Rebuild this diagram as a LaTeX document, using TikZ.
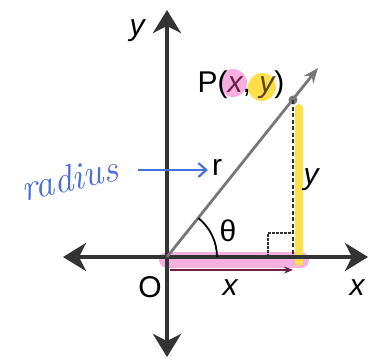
\documentclass[tikz,border=0pt]{standalone}
\usepackage{fontspec}
\newfontfamily\labelfont{Liberation Sans}
\usetikzlibrary{positioning,arrows.meta}
\definecolor{axisgray}{HTML}{333333}
\definecolor{raygray}{HTML}{777777}
\definecolor{hlpink}{HTML}{F6B0E0}
\definecolor{hlyellow}{HTML}{FFE04A}
\definecolor{penblue}{HTML}{4A6FD8}
\definecolor{xmaroon}{HTML}{6B1E4A}
\definecolor{yolive}{HTML}{5A4718}

\begin{document}
\begin{tikzpicture}[x=1pt, y=1pt,
				axis/.style={line width=4.5pt, axisgray, -{Stealth[length=23pt, width=28pt, inset=7pt]}},
				lbl/.style={font=\labelfont\fontsize{30}{32}\selectfont, inner sep=0pt},
				highlight/.style={line width=#1, line cap=round},
				arrow/.style={-{Stealth[length=9pt, width=7pt]}}
			]
			\useasboundingbox (0,0) rectangle (371,362);

			% Points
			\coordinate (O) at (167,105);
			\coordinate (P) at (293,262);
			\coordinate (F) at (293,105);
			\coordinate (raytip) at (318,294);
			\coordinate (top) at (167,352);
			\coordinate (bottom) at (167,5);
			\coordinate (left) at (63,105);
			\coordinate (right) at (368,105);

			% Highlights
			\coordinate (pinkA) at (167,102);
			\coordinate (pinkB) at (301,102);
			\coordinate (yelA) at (299,254);
			\coordinate (yelB) at (299,100);
			\draw[highlight=16pt, hlpink] (pinkA) -- (pinkB);
			\draw[highlight=8pt, hlyellow] (yelA) -- (yelB);
			\fill[hlpink] (233,279) circle (14);
			\fill[hlyellow] (262,275) circle (14);

			% Axes
			\draw[axis] (O) -- (top);
			\draw[axis] (O) -- (bottom);
			\draw[axis] (O) -- (left);
			\draw[axis] (O) -- (right);

			% Triangle
			\draw[line width=2.8pt, raygray, -{Stealth[length=15pt, width=12pt]}] (O) -- (raytip);
			\fill[raygray] (P) circle (4.5);
			\draw[line width=2pt, axisgray, dash pattern=on 4pt off 2.5pt] (P) -- (F);
			\coordinate (sqA) at (268,105);
			\coordinate (sqB) at (268,129);
			\coordinate (sqC) at (293,129);
			\draw[line width=1.8pt, axisgray, dash pattern=on 3pt off 1pt] (sqA) -- (sqB) -- (sqC);
			\draw[line width=1.8pt, black] ([shift={(50,0)}]O) arc[start angle=0, end angle=51, radius=50];
			\coordinate (xarrA) at (170,92);
			\coordinate (xarrB) at (293,92);
			\draw[arrow, line width=2pt, xmaroon] (xarrA) -- (xarrB);

			% Labels
			\node[lbl] (ytop) at (137,331) {\itshape y};
			\node[lbl] (plabel) at (241,277) {P(\textcolor{xmaroon}{\itshape x}, \textcolor{yolive}{\itshape y})};
			\node[lbl] (rlabel) at (217,195) {r};
			\node[lbl] (yside) at (311,182) {\itshape y};
			\node[lbl] (theta) at (228,131) {θ};
			\node[lbl] (olabel) at (150,75) {O};
			\node[lbl] (xbelow) at (230,74) {\itshape x};
			\node[lbl] (xright) at (357,74) {\itshape x};

			% Handwritten note
			\node[penblue, font=\itshape\fontsize{38}{40}\selectfont, rotate=13, inner sep=0pt] (radius) at (69,184) {radius};
			\coordinate (penA) at (138,192);
			\coordinate (penB) at (208,192);
			\draw[penblue, line width=2.2pt, -{Straight Barb[length=8pt, width=14pt]}] (penA) -- (penB);
		\end{tikzpicture}
\end{document}
